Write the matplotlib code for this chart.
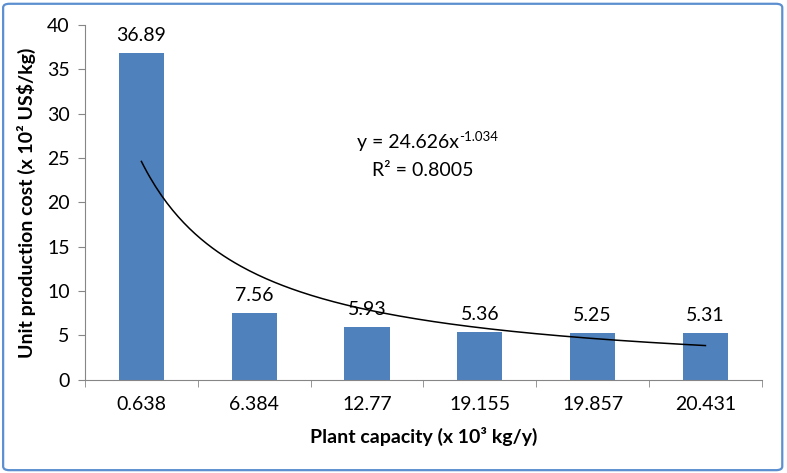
import numpy as np
import matplotlib.pyplot as plt
from matplotlib.patches import FancyBboxPatch

# data
capacity_labels = ["0.638", "6.384", "12.77", "19.155", "19.857", "20.431"]
unit_cost = [36.89, 7.56, 5.93, 5.36, 5.25, 5.31]

# power trendline reported on the chart (x = category index 1..n)
trend_a = 24.626
trend_b = -1.034
trend_r2 = 0.8005

plt.rcParams['font.family'] = ['Lato', 'DejaVu Sans']

fig = plt.figure(figsize=(7.87, 4.73), dpi=100)
ax = fig.add_axes([0.108, 0.197, 0.860, 0.750])

# chart border
frame = FancyBboxPatch((0.004, 0.006), 0.99, 0.986, boxstyle="round,pad=0,rounding_size=0.008",
                       transform=fig.transFigure, facecolor="none", edgecolor="#5B8FD0",
                       linewidth=1.6, zorder=-1)
fig.patches.append(frame)

pos = np.arange(len(unit_cost))
ax.bar(pos, unit_cost, width=0.4, color="#4F81BD", zorder=2)

for p, v in zip(pos, unit_cost):
    ax.text(p, v + 1.0, f"{v:.2f}", ha="center", va="bottom", fontsize=14, color="black")

# trendline
xs = np.linspace(1, len(unit_cost), 200)
ax.plot(xs - 1, trend_a * xs ** trend_b, color="black", linewidth=1.1, zorder=3)
eq = ax.text(2.36, 26.8, f"y = {trend_a}x", ha="center", va="center", fontsize=14)
ax.annotate(f"{trend_b}", xy=(1, 1), xycoords=eq, xytext=(0.5, 2.0), textcoords="offset points",
            ha="left", va="top", fontsize=9.5)
ax.text(2.49, 23.6, "R² = %s" % trend_r2, ha="center", va="center", fontsize=14)

ax.set_xlim(-0.5, len(unit_cost) - 0.5)
ax.set_ylim(0, 40)
ax.set_yticks(range(0, 41, 5))
ax.set_xticks(pos)
ax.set_xticklabels(capacity_labels)
ax.set_xticks(np.arange(-0.5, len(unit_cost)), minor=True)
ax.tick_params(axis="x", which="major", length=0, pad=12, labelsize=14)
ax.tick_params(axis="x", which="minor", length=5, color="#868686")
ax.tick_params(axis="y", length=5, color="#868686", labelsize=14, pad=6)

for s in ["top", "right"]:
    ax.spines[s].set_visible(False)
for s in ["left", "bottom"]:
    ax.spines[s].set_color("#868686")

ax.set_xlabel("Plant capacity (x 10³ kg/y)", fontsize=14, fontweight="bold", labelpad=10)
ax.set_ylabel("Unit production cost (x 10² US$/kg)", fontsize=14, fontweight="bold", labelpad=8)

fig.savefig("out.png", dpi=100)
